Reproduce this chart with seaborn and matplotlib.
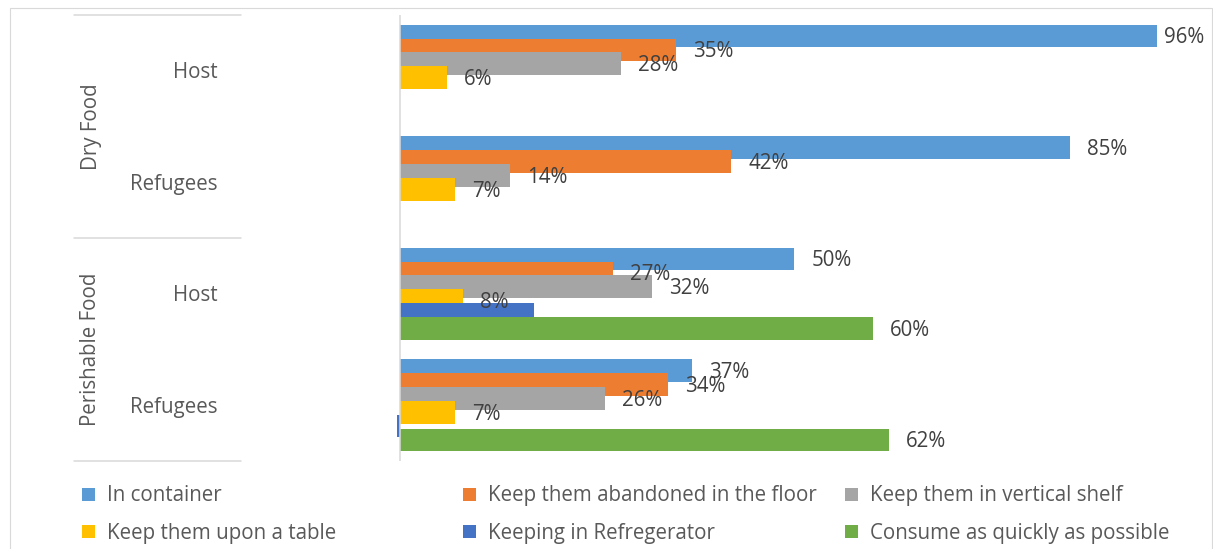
import numpy as np
import pandas as pd
import matplotlib
matplotlib.use("Agg")
import matplotlib.pyplot as plt
from matplotlib.patches import Rectangle
from matplotlib.lines import Line2D
from matplotlib.transforms import blended_transform_factory
import seaborn as sns

# ---- data -------------------------------------------------------------
food_groups = ["Dry Food", "Perishable Food"]
respondents = ["Host", "Refugees", "Host", "Refugees"]

series_names = [
    "In container",
    "Keep them abandoned in the floor",
    "Keep them in vertical shelf",
    "Keep them upon a table",
    "Keeping in Refregerator",
    "Consume as quickly as possible",
]
in_container = [96, 85, 50, 37]
abandoned_floor = [35, 42, 27, 34]
vertical_shelf = [28, 14, 32, 26]
upon_table = [6, 7, 8, 7]
refrigerator = [np.nan, np.nan, 17, -0.4]
consume_quickly = [np.nan, np.nan, 60, 62]
series_values = [in_container, abandoned_floor, vertical_shelf,
                 upon_table, refrigerator, consume_quickly]
show_labels = [True, True, True, True, False, True]

colors = ["#5B9BD5", "#ED7D31", "#A5A5A5", "#FFC000", "#4472C4", "#70AD47"]

# ---- style ------------------------------------------------------------
sns.set_theme(style="white")
plt.rcParams["font.family"] = ["Open Sans", "DejaVu Sans"]
FS = 14.8
HALF_CAP = 7.4  # half the cap height in pixels, used to centre text on a row
TEXT = "#595959"
LABEL = "#404040"
GRID = "#D9D9D9"

W, H = 1213, 549
fig = plt.figure(figsize=(W / 100, H / 100), dpi=100)

# plot area: x=0 sits at pixel 400, 7.885 px per percent
x0_px, ppu = 400.0, 7.885
xmin, xmax = -1, 100
left_px = x0_px + xmin * ppu
right_px = x0_px + xmax * ppu
top_px, bot_px = 15, 461
ax = fig.add_axes([left_px / W, (H - bot_px) / H,
                   (right_px - left_px) / W, (bot_px - top_px) / H])

# overlapping bars: 6 slots per category
bar_h = 0.203
step = 0.125
cat_idx = np.arange(len(respondents))
for k, (name, vals) in enumerate(zip(series_names, series_values)):
    df = pd.DataFrame({"pos": cat_idx + (k - 2.5) * step, "value": vals})
    sns.barplot(data=df, x="value", y="pos", orient="h", native_scale=True,
                width=bar_h, color=colors[k], saturation=1, linewidth=0,
                errorbar=None, ax=ax, zorder=2)

ax.set_xlim(xmin, xmax)
ax.set_ylim(len(respondents) - 0.5, -0.5)
ax.set_xlabel("")
ax.set_ylabel("")
ax.set_xticks([])
ax.set_yticks([])
for s in ax.spines.values():
    s.set_visible(False)
ax.axvline(0, color=GRID, lw=1.1, zorder=3)

# value labels
labels = []
for k, vals in enumerate(series_values):
    if not show_labels[k]:
        continue
    for i, v in enumerate(vals):
        if np.isnan(v):
            continue
        pos = i + (k - 2.5) * step
        a = ax.annotate(f"{v:.0f}%", xy=(v, pos), xytext=(17, -HALF_CAP),
                        textcoords="offset pixels", ha="left", va="baseline",
                        fontsize=FS, color=LABEL, zorder=5, annotation_clip=False)
        labels.append(a)

# category labels (inner level)
for i, name in enumerate(respondents):
    ax.annotate(name, xy=(218, i), xycoords=("figure pixels", "data"),
                xytext=(0, -HALF_CAP), textcoords="offset pixels",
                ha="right", va="baseline", fontsize=FS, color=TEXT,
                annotation_clip=False)

# group labels (outer level), rotated
for g, name in enumerate(food_groups):
    ax.annotate(name, xy=(91, 2 * g + 0.5), xycoords=("figure pixels", "data"),
                ha="center", va="center", rotation=90, fontsize=FS, color=TEXT,
                annotation_clip=False)

# separators of the category axis
sep_tr = blended_transform_factory(fig.transFigure, ax.transData)
for yb in [-0.5, 1.5, 3.5]:
    fig.add_artist(Line2D([74 / W, 241 / W], [yb, yb], transform=sep_tr,
                          color=GRID, lw=1.1))

# chart frame
fig.add_artist(Rectangle((10 / W, -0.1), (1212 - 10) / W, (H - 8) / H + 0.1,
                         transform=fig.transFigure, fill=False,
                         edgecolor=GRID, lw=0.8))

# legend: 3 columns x 2 rows
col_x = [82, 463, 845]
row_y = [494, 531.5]
sq = 13
for i, (name, c) in enumerate(zip(series_names, colors)):
    r, cidx = divmod(i, 3)
    mx, yc = col_x[cidx], row_y[r]
    fig.add_artist(Rectangle((mx / W, (H - yc - sq / 2) / H), sq / W, sq / H,
                             transform=fig.transFigure, color=c, lw=0))
    fig.text((mx + 25) / W, (H - yc - HALF_CAP) / H, name, ha="left",
             va="baseline", fontsize=FS, color=TEXT)

# keep value labels inside the frame
fig.canvas.draw()
limit = 1204
for a in labels:
    bb = a.get_window_extent()
    if bb.x1 > limit:
        dx, dy = a.xyann
        a.xyann = (dx - (bb.x1 - limit), dy)

fig.savefig("out.png", dpi=100)
